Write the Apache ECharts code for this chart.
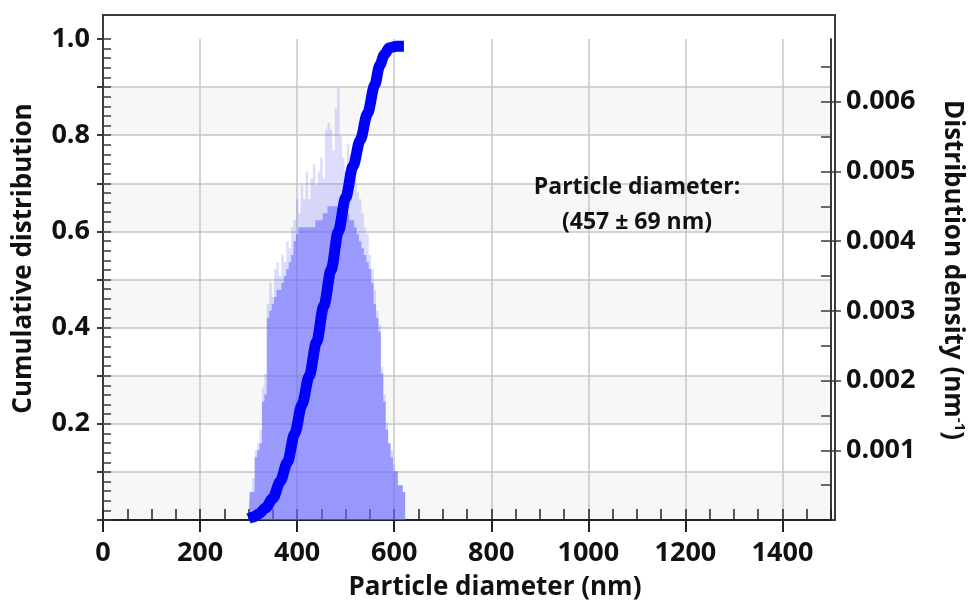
<!DOCTYPE html>
<html><head><meta charset="utf-8">
<script src="https://cdn.jsdelivr.net/npm/echarts/dist/echarts.min.js"></script>
<style>html,body{margin:0;padding:0;background:#fff}#c{width:975px;height:608px}</style>
</head><body><div id="c"></div>
<script>
// ---- data ----
const nmBins = [300,305,310,315,320,325,330,335,340,345,350,355,360,365,370,375,380,385,390,395,
  400,405,410,415,420,425,430,435,440,445,450,455,460,465,470,475,480,485,490,495,
  500,505,510,515,520,525,530,535,540,545,550,555,560,565,570,575,580,585,590,595,
  600,605,610,615,620,625];
const densitySolid = [0,0.0004,0.0004,0.0009,0.0010,0.0011,0.0017,0.0018,0.0029,0.0030,0.0031,0.0032,0.0033,0.0033,0.0034,0.0035,0.0036,0.0037,0.0038,0.0040,
  0.0041,0.0042,0.0042,0.0042,0.0042,0.0042,0.0042,0.0042,0.0043,0.0043,0.0043,0.0044,0.0044,0.0045,0.0045,0.0045,0.0045,0.0045,0.0044,0.0044,
  0.0044,0.0044,0.0043,0.0043,0.0042,0.0041,0.0040,0.0039,0.0038,0.0037,0.0036,0.0034,0.0031,0.0029,0.0027,0.0021,0.0017,0.0013,0.0011,0.0009,
  0.0007,0.0007,0.0005,0.0005,0.0004,0];
const densitySpike = [0,0.0004,0.0006,0.0010,0.0011,0.0013,0.0019,0.0021,0.0031,0.0034,0.0032,0.0036,0.0037,0.0035,0.0038,0.0037,0.0040,0.0039,0.0042,0.0043,
  0.0046,0.0044,0.0048,0.0046,0.0050,0.0046,0.0049,0.0051,0.0048,0.0050,0.0052,0.0049,0.0056,0.0057,0.0056,0.0053,0.0059,0.0062,0.0055,0.0052,
  0.0050,0.0054,0.0051,0.0049,0.0049,0.0047,0.0046,0.0044,0.0042,0.0041,0.0038,0.0036,0.0033,0.0030,0.0028,0.0022,0.0018,0.0014,0.0011,0.0010,
  0.0008,0.0007,0.0005,0.0005,0.0004,0];
const cumNm  = [300,310,320,335,350,365,380,395,410,425,440,455,470,485,500,515,530,545,560,570,580,590,605,620];
const cumVal = [0.003,0.006,0.012,0.025,0.045,0.08,0.12,0.18,0.24,0.30,0.37,0.445,0.52,0.60,0.67,0.735,0.79,0.845,0.905,0.945,0.968,0.982,0.985,0.985];
const xTickLabels = [0,200,400,600,800,1000,1200,1400];
const leftTickLabels = [0.2,0.4,0.6,0.8,1.0];
const rightTickLabels = [0.001,0.002,0.003,0.004,0.005,0.006];
const rightMinorTicks = [0.0005,0.001,0.0015,0.002,0.0025,0.003,0.0035,0.004,0.0045,0.005,0.0055,0.006,0.0065];
const annotationLines = ['Particle diameter:', '(457 \u00B1 69 nm)'];
const xTitle = 'Particle diameter (nm)';
const leftTitle = 'Cumulative distribution';
const rightTitle = 'Distribution density (nm{sup|-1})';

// ---- chart ----
const FONT = 'Open Sans';
const AX = '#3a3a3a';
const pairs = (xs, ys) => xs.map((x, i) => [x, ys[i]]);
const chart = echarts.init(document.getElementById('c'), null, {renderer: 'canvas'});
const L = 103, R = 140, B = 88;
const labelStyle = {fontFamily: FONT, fontSize: 27, fontWeight: 'bold', color: '#111'};
const nameStyle = {fontFamily: FONT, fontSize: 26, fontWeight: 'bold', color: '#111'};
const hLineColors = ['#c6c6c6','#c6c6c6','#c6c6c6','#c6c6c6','#c6c6c6','#c6c6c6','#c6c6c6','#c6c6c6','#c6c6c6','#c6c6c6','rgba(0,0,0,0)'];

const option = {
  animation: false,
  backgroundColor: '#ffffff',
  grid: [
    {left: L, right: R, top: 39, bottom: B, show: false},
    {left: L, right: R, top: 15, bottom: B, show: true, borderColor: AX, borderWidth: 2, backgroundColor: 'transparent'}
  ],
  xAxis: [
    {type: 'value', gridIndex: 0, position: 'bottom', min: 0, max: 1500, interval: 200,
     axisLine: {onZero: false, lineStyle: {color: '#222', width: 2}},
     axisTick: {inside: false, length: 12, customValues: xTickLabels, lineStyle: {color: '#222', width: 2}},
     axisLabel: Object.assign({customValues: xTickLabels, margin: 20, formatter: v => String(v)}, labelStyle),
     splitLine: {show: true, lineStyle: {color: '#c6c6c6', width: 1.5}},
     name: xTitle, nameLocation: 'middle', nameGap: 55,
     nameTextStyle: Object.assign({padding: [0, 0, 0, 56]}, nameStyle)},
    {type: 'value', gridIndex: 0, position: 'bottom', min: 0, max: 1500, interval: 50,
     axisLine: {show: false, onZero: false},
     axisTick: {inside: true, length: 11, lineStyle: {color: '#222', width: 1.5}},
     axisLabel: {show: false}, splitLine: {show: false}},
    {type: 'value', gridIndex: 1, min: 0, max: 1500, show: false, splitLine: {show: false}}
  ],
  yAxis: [
    {type: 'value', gridIndex: 0, position: 'left', min: 0, max: 1, interval: 0.1,
     axisLine: {onZero: false, lineStyle: {color: AX, width: 2}},
     axisTick: {inside: false, length: 6, lineStyle: {color: AX, width: 2}},
     axisLabel: Object.assign({customValues: leftTickLabels, margin: 13, formatter: v => v.toFixed(1)}, labelStyle),
     splitLine: {show: true, lineStyle: {color: hLineColors, width: 1.5}},
     splitArea: {show: true, areaStyle: {color: ['#f7f7f7', '#ffffff']}},
     name: leftTitle, nameLocation: 'middle', nameRotate: 90, nameGap: 66,
     nameTextStyle: Object.assign({padding: [0, 0, 0, 42]}, nameStyle)},
    {type: 'value', gridIndex: 0, position: 'left', min: 0, max: 1, interval: 0.02,
     axisLine: {show: false, onZero: false},
     axisTick: {inside: true, length: 8, lineStyle: {color: AX, width: 1.5}},
     axisLabel: {show: false}, splitLine: {show: false}},
    {type: 'value', gridIndex: 0, position: 'right', min: 0, max: 0.0069,
     axisLine: {onZero: false, lineStyle: {color: AX, width: 2}},
     axisTick: {inside: false, length: 10, customValues: rightTickLabels, lineStyle: {color: AX, width: 1.5}},
     axisLabel: Object.assign({customValues: rightTickLabels, margin: 15, formatter: v => v.toFixed(3)}, labelStyle),
     splitLine: {show: false},
     name: rightTitle, nameLocation: 'middle', nameRotate: -90, nameGap: 106,
     nameTextStyle: Object.assign({padding: [0, 19, 0, 0], lineHeight: 30,
       rich: {sup: {fontFamily: FONT, fontSize: 15, fontWeight: 'bold', color: '#111', verticalAlign: 'top', lineHeight: 15}}}, nameStyle)},
    {type: 'value', gridIndex: 0, position: 'right', min: 0, max: 0.0069,
     axisLine: {show: false, onZero: false},
     axisTick: {inside: true, length: 10, customValues: rightMinorTicks, lineStyle: {color: AX, width: 1.5}},
     axisLabel: {show: false}, splitLine: {show: false}},
    {type: 'value', gridIndex: 1, show: false, splitLine: {show: false}}
  ],
  graphic: [{
    type: 'text', x: 637, y: 170, z: 10,
    style: {text: annotationLines.join('\n'), textAlign: 'center', textVerticalAlign: 'top',
            font: 'bold 23px "Open Sans"', lineHeight: 35, fill: '#111'}
  }],
  series: [
    {type: 'line', name: 'spike', xAxisIndex: 0, yAxisIndex: 2, data: pairs(nmBins, densitySpike),
     step: 'middle', symbol: 'none', lineStyle: {width: 0, opacity: 0},
     areaStyle: {color: 'rgba(110,110,255,0.35)'}, z: 2},
    {type: 'line', name: 'solid', xAxisIndex: 0, yAxisIndex: 2, data: pairs(nmBins, densitySolid),
     step: 'middle', symbol: 'none', lineStyle: {width: 0, opacity: 0},
     areaStyle: {color: 'rgba(100,100,255,0.78)'}, z: 3},
    {type: 'line', name: 'cumulative', xAxisIndex: 0, yAxisIndex: 0, data: pairs(cumNm, cumVal),
     smooth: 0.3, smoothMonotone: 'x', symbol: 'none',
     lineStyle: {color: '#0000ff', width: 11}, z: 5}
  ]
};
chart.setOption(option);
</script></body></html>
